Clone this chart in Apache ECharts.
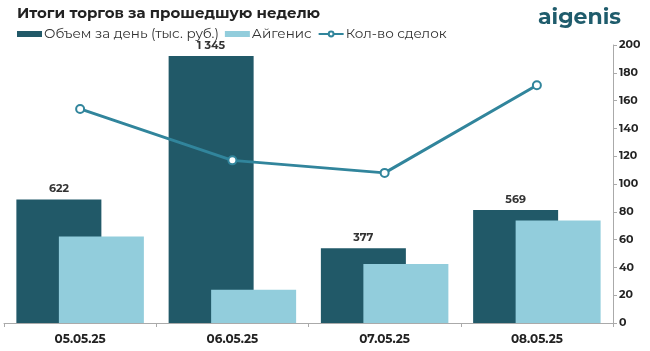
<!DOCTYPE html>
<html><head><meta charset="utf-8">
<script src="https://cdn.jsdelivr.net/npm/echarts@6/dist/echarts.min.js"></script>
<style>html,body{margin:0;padding:0;background:#fff}#c{width:650px;height:351px}</style>
</head><body><div id="c"></div>
<script>
const categories = ['05.05.25','06.05.25','07.05.25','08.05.25'];
const volume = [622, 1345, 377, 569];
const aigenis = [435, 167, 297, 516];
const deals = [154, 117, 108, 171];
const rightTicks = [0, 200, 20];

const chart = echarts.init(document.getElementById('c'));
const font = 'Montserrat, "Open Sans", sans-serif';
chart.setOption({
  animation: false,
  title: {
    text: 'Итоги торгов за прошедшую неделю',
    left: 12, top: 1,
    textStyle: {fontFamily: font, fontSize: 15, fontWeight: 'bold', color: '#222'}
  },
  graphic: [{
    type: 'text', left: 538, top: 7,
    style: {text: 'aigenis', font: 'bold 22px ' + font, fill: '#1f5c6c'}
  }],
  legend: {
    left: 12, top: 22, itemGap: 6, itemWidth: 25, itemHeight: 6,
    textStyle: {fontFamily: font, fontSize: 13.5, color: '#333', padding: [0,0,0,-3]},
    data: [
      {name: 'Объем за день (тыс. руб.)', icon: 'rect'},
      {name: 'Айгенис', icon: 'rect'},
      {name: 'Кол-во сделок'}
    ]
  },
  grid: {left: 4, right: 37, top: 45, bottom: 28},
  xAxis: {
    type: 'category', data: categories,
    axisLine: {lineStyle: {color: '#aaa'}},
    axisTick: {show: true, length: 4, lineStyle: {color: '#aaa'}},
    axisLabel: {fontFamily: font, fontSize: 12, fontWeight: 'bold', color: '#222', margin: 10}
  },
  yAxis: [
    {type: 'value', min: 0, max: 1400, show: false, splitLine: {show: false}},
    {type: 'value', position: 'right', min: rightTicks[0], max: rightTicks[1], interval: rightTicks[2],
     axisLine: {show: true, lineStyle: {color: '#aaa'}},
     axisTick: {show: true, length: 4, lineStyle: {color: '#aaa'}},
     splitLine: {show: false},
     axisLabel: {fontFamily: font, fontSize: 11, fontWeight: 'bold', color: '#222', margin: 6}}
  ],
  series: [
    {name: 'Объем за день (тыс. руб.)', type: 'bar', data: volume, yAxisIndex: 0,
     barWidth: 85, barGap: '-50%',
     itemStyle: {color: '#215968'},
     label: {show: true, position: 'top', distance: 5, fontFamily: font, fontSize: 11, fontWeight: 'bold', color: '#333',
       formatter: p => p.value >= 1000 ? String(p.value).replace(/\B(?=(\d{3})+(?!\d))/g, ' ') : String(p.value)}},
    {name: 'Айгенис', type: 'bar', data: aigenis, yAxisIndex: 0,
     barWidth: 85, barGap: '-50%',
     itemStyle: {color: '#92cddc'}},
    {name: 'Кол-во сделок', type: 'line', data: deals, yAxisIndex: 1,
     symbol: 'circle', symbolSize: 8,
     lineStyle: {color: '#31859c', width: 3},
     itemStyle: {color: '#fff', borderColor: '#31859c', borderWidth: 2},
     z: 5}
  ]
});
</script></body></html>
